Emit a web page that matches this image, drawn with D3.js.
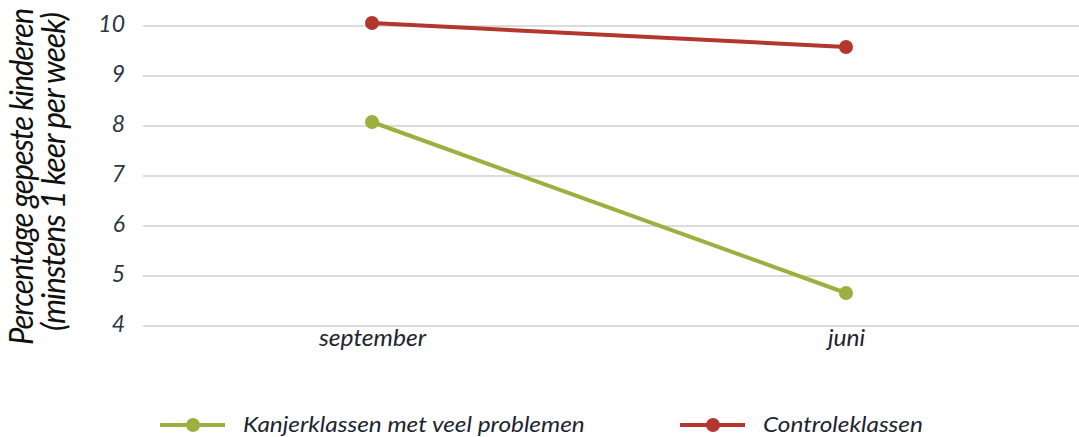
<!DOCTYPE html>
<html><head><meta charset="utf-8">
<script src="https://cdn.jsdelivr.net/npm/d3@7"></script>
<style>body{margin:0;background:#fff}svg{display:block}text{font-family:Lato,sans-serif}</style>
</head><body><svg id="c" width="1079" height="437"></svg>
<script>
const categories = ["september", "juni"];
const seriesNames = ["Kanjerklassen met veel problemen", "Controleklassen"];
const kanjerValues = [8.08, 4.66];
const controleValues = [10.06, 9.58];
const yTicks = [4, 5, 6, 7, 8, 9, 10];
const colors = ["#9bb03e", "#b2372f"];

const svg = d3.select("#c");
const x = d3.scalePoint().domain(categories).range([372, 846]);
const y = d3.scaleLinear().domain([4, 10]).range([326, 26]);

// gridlines
svg.append("g").selectAll("line").data(yTicks).join("line")
  .attr("x1", 143).attr("x2", 1079)
  .attr("y1", d => y(d)).attr("y2", d => y(d))
  .attr("stroke", "#d0d0d0").attr("stroke-width", 1.3);

// y axis labels
const yAxis = d3.axisLeft(y).tickValues(yTicks).tickFormat(d3.format("d")).tickSize(0).tickPadding(0);
const ga = svg.append("g").attr("transform", "translate(125,-2)").call(yAxis);
ga.select(".domain").remove();
ga.selectAll("text").attr("font-family", "Lato, sans-serif").attr("font-style", "italic")
  .attr("font-size", 23).attr("fill", "#2a3644");

// x axis labels
const xAxis = d3.axisBottom(x).tickSize(0).tickPadding(0);
const gx = svg.append("g").attr("transform", "translate(0,326)").call(xAxis);
gx.select(".domain").remove();
gx.selectAll("text").attr("font-family", "Lato, sans-serif").attr("font-style", "italic")
  .attr("font-size", 23).attr("fill", "#1e2430").attr("dy", 0).attr("y", 20)
  .attr("transform", function(){ const b = this.getBBox(); const cx = b.x + b.width/2; return `translate(${cx},0) scale(1.07,1) translate(${-cx},0)`; });

// y title: condensed glyphs fitted to target length
function titleLine(txt, cy, base, len) {
  const t = svg.append("text").attr("font-style", "italic").attr("font-size", 33)
    .attr("fill", "#111").attr("text-anchor", "middle").attr("letter-spacing", -1.2).text(txt);
  const w = t.node().getComputedTextLength();
  t.attr("transform", `translate(${base},${cy}) rotate(-90) scale(${len / w},1)`);
}
titleLine("Percentage gepeste kinderen", 177, 33, 336);
titleLine("(minstens 1 keer per week)", 172, 65, 318);

const series = [kanjerValues, controleValues];
const line = d3.line().x((d, i) => x(categories[i])).y(d => y(d));
series.forEach((vals, s) => {
  svg.append("path").datum(vals).attr("d", line).attr("fill", "none")
    .attr("stroke", colors[s]).attr("stroke-width", 4);
  svg.append("g").selectAll("circle").data(vals).join("circle")
    .attr("cx", (d, i) => x(categories[i])).attr("cy", d => y(d)).attr("r", 7)
    .attr("fill", colors[s]);
});

// legend
const legX = [160, 680];
const legLen = [342, 160];
seriesNames.forEach((n, s) => {
  const g = svg.append("g").attr("transform", `translate(${legX[s]},425)`);
  g.append("line").attr("x1", 0).attr("x2", 65).attr("stroke", colors[s]).attr("stroke-width", 4);
  g.append("circle").attr("cx", 33).attr("r", 7).attr("fill", colors[s]);
  const t = g.append("text").attr("font-style", "italic")
    .attr("font-size", 22).attr("fill", "#1c2430").text(n);
  const w = t.node().getComputedTextLength();
  t.attr("transform", `translate(83,7) scale(${legLen[s] / w},1)`);
});
</script></body></html>
